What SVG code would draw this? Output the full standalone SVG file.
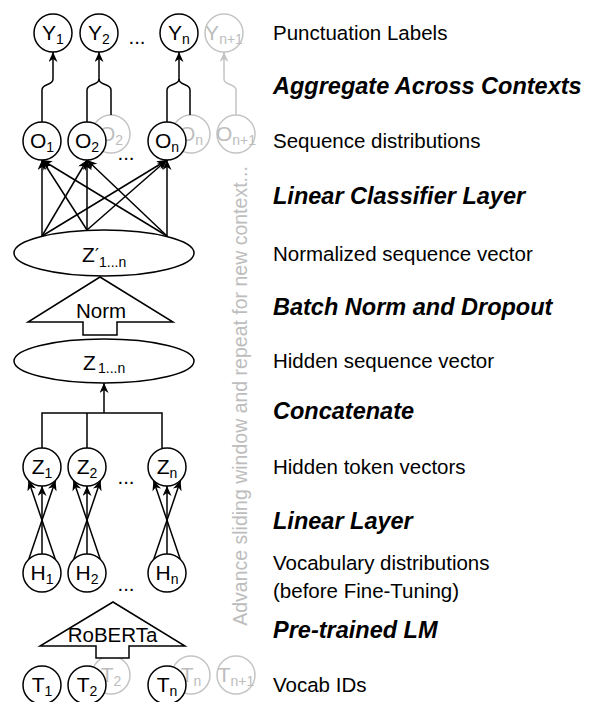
<svg xmlns="http://www.w3.org/2000/svg" width="592" height="702" viewBox="0 0 592 702">
<style>
text{font-family:"Liberation Sans",Arial,Helvetica,sans-serif;fill:#000}
.n{font-size:21px}
.s{font-size:14px}
.g{fill:#bdbdbd}
.lab{font-size:20.5px}
.rot{font-size:19.5px}
.hd{font-size:23.5px;font-weight:bold;font-style:italic}
.c{fill:#fff;stroke:#000;stroke-width:1.5}
.cg{fill:#fff;stroke:#c4c4c4;stroke-width:1.5}
.e{fill:none;stroke:#000;stroke-width:1.5}
.eg{fill:none;stroke:#c4c4c4;stroke-width:1.5}
.a{marker-end:url(#ah)}
.ag{marker-end:url(#ahg)}
</style>
<defs>
<marker id="ah" markerUnits="userSpaceOnUse" markerWidth="11" markerHeight="9" refX="10" refY="4.5" orient="auto">
<path d="M0,0 L10,4.5 L0,9 L3,4.5 Z" fill="#000"/>
</marker>
<marker id="ahg" markerUnits="userSpaceOnUse" markerWidth="11" markerHeight="9" refX="10" refY="4.5" orient="auto">
<path d="M0,0 L10,4.5 L0,9 L3,4.5 Z" fill="#c4c4c4"/>
</marker>
</defs>

<!-- grey (next context) nodes -->
<g id="ghost-nodes">
<g id="Yn1g"><circle class="cg" cx="224" cy="33" r="19"/><text class="n g" x="224" y="40" text-anchor="middle">Y<tspan class="s" dy="4">n+1</tspan></text></g>
<g id="O2g"><circle class="cg" cx="111" cy="134" r="19"/><text class="n g" x="111" y="141" text-anchor="middle">O<tspan class="s" dy="4">2</tspan></text></g>
<g id="Ong"><circle class="cg" cx="191" cy="134" r="19"/><text class="n g" x="191" y="141" text-anchor="middle">O<tspan class="s" dy="4">n</tspan></text></g>
<g id="On1g"><circle class="cg" cx="236" cy="134" r="19"/><text class="n g" x="236" y="141" text-anchor="middle">O<tspan class="s" dy="4">n+1</tspan></text></g>
<g id="T2g"><circle class="cg" cx="111" cy="675" r="19"/><text class="n g" x="111" y="682" text-anchor="middle">T<tspan class="s" dy="4">2</tspan></text></g>
<g id="Tng"><circle class="cg" cx="191" cy="675" r="19"/><text class="n g" x="191" y="682" text-anchor="middle">T<tspan class="s" dy="4">n</tspan></text></g>
<g id="Tn1g"><circle class="cg" cx="236" cy="675" r="19"/><text class="n g" x="236" y="682" text-anchor="middle">T<tspan class="s" dy="4">n+1</tspan></text></g>
</g>

<g id="connectors">
<!-- O to Y -->
<path class="e a" d="M42,122 V90 C42,83 53,86 53,79 V52"/>
<path class="e a" d="M87,122 V90 C87,83 99,86 99,79 V52"/>
<path class="e" d="M111,115 V90 C111,83 99,86 99,79"/>
<path class="e a" d="M167,122 V90 C167,83 179,86 179,79 V52"/>
<path class="e" d="M190,115 V90 C190,83 179,86 179,79"/>
<path class="eg ag" d="M236,115 V90 C236,83 224,86 224,79 V52"/>
<!-- Z' to O -->
<path class="e a" d="M42,236 L42,160"/>
<path class="e a" d="M42,236 L87,160"/>
<path class="e a" d="M42,236 L167,160"/>
<path class="e a" d="M87,230 L42,160"/>
<path class="e a" d="M87,230 L87,160"/>
<path class="e a" d="M87,230 L167,160"/>
<path class="e a" d="M167,236 L42,160"/>
<path class="e a" d="M167,236 L87,160"/>
<path class="e a" d="M167,236 L167,160"/>
<!-- concatenate -->
<path class="e" d="M42,448 V413 H162 V449 M87,448 V413"/>
<path class="e a" d="M104,413 V383"/>
<!-- H to Z -->
<path class="e a" d="M28.5,560 L55.5,480.5"/>
<path class="e a" d="M42,554 L42,486"/>
<path class="e a" d="M55.5,560 L28.5,480.5"/>
<path class="e a" d="M73.5,560 L100.5,480.5"/>
<path class="e a" d="M87,554 L87,486"/>
<path class="e a" d="M100.5,560 L73.5,480.5"/>
<path class="e a" d="M153.5,560 L180.5,480.5"/>
<path class="e a" d="M167,554 L167,486"/>
<path class="e a" d="M180.5,560 L153.5,480.5"/>
</g>

<g id="Y1"><circle class="c" cx="53" cy="33" r="19"/><text class="n" x="53" y="40" text-anchor="middle">Y<tspan class="s" dy="4">1</tspan></text></g>
<g id="Y2"><circle class="c" cx="99" cy="33" r="19"/><text class="n" x="99" y="40" text-anchor="middle">Y<tspan class="s" dy="4">2</tspan></text></g>
<g id="Yn"><circle class="c" cx="179" cy="33" r="19"/><text class="n" x="179" y="40" text-anchor="middle">Y<tspan class="s" dy="4">n</tspan></text></g>
<text class="lab" x="137" y="44" text-anchor="middle">...</text>

<g id="O1"><circle class="c" cx="42" cy="141" r="19"/><text class="n" x="42" y="148" text-anchor="middle">O<tspan class="s" dy="4">1</tspan></text></g>
<g id="O2"><circle class="c" cx="87" cy="141" r="19"/><text class="n" x="87" y="148" text-anchor="middle">O<tspan class="s" dy="4">2</tspan></text></g>
<g id="On"><circle class="c" cx="167" cy="141" r="19"/><text class="n" x="167" y="148" text-anchor="middle">O<tspan class="s" dy="4">n</tspan></text></g>
<text class="lab" x="126" y="160" text-anchor="middle">...</text>

<g id="Zp"><ellipse class="c" cx="104" cy="253" rx="90" ry="23"/><text class="n" x="82" y="262">Z</text><text x="95" y="261" style="font-family:'DejaVu Sans',sans-serif;font-size:18px">′</text><text class="s" x="99" y="267">1...n</text></g>

<g id="Norm"><path class="c" d="M100,277 L173,322 L117,322 L117,335 L83,335 L83,322 L28,322 Z"/><text class="lab" x="101" y="318" text-anchor="middle">Norm</text></g>

<g id="Z"><ellipse class="c" cx="104" cy="361" rx="90" ry="22"/><text class="n" x="83" y="370">Z</text><text class="s" x="98" y="373">1...n</text></g>

<g id="Z1"><circle class="c" cx="42" cy="467" r="19"/><text class="n" x="42" y="474" text-anchor="middle">Z<tspan class="s" dy="4">1</tspan></text></g>
<g id="Z2"><circle class="c" cx="87" cy="467" r="19"/><text class="n" x="87" y="474" text-anchor="middle">Z<tspan class="s" dy="4">2</tspan></text></g>
<g id="Zn"><circle class="c" cx="167" cy="467" r="19"/><text class="n" x="167" y="474" text-anchor="middle">Z<tspan class="s" dy="4">n</tspan></text></g>
<text class="lab" x="126" y="484" text-anchor="middle">...</text>

<g id="H1"><circle class="c" cx="42" cy="573" r="19"/><text class="n" x="42" y="580" text-anchor="middle">H<tspan class="s" dy="4">1</tspan></text></g>
<g id="H2"><circle class="c" cx="87" cy="573" r="19"/><text class="n" x="87" y="580" text-anchor="middle">H<tspan class="s" dy="4">2</tspan></text></g>
<g id="Hn"><circle class="c" cx="167" cy="573" r="19"/><text class="n" x="167" y="580" text-anchor="middle">H<tspan class="s" dy="4">n</tspan></text></g>
<text class="lab" x="126" y="591" text-anchor="middle">...</text>

<g id="RoBERTa"><path class="c" d="M113,602 L185,646 L129,646 L129,658 L96,658 L96,646 L40,646 Z"/><text class="lab" x="112.5" y="642" text-anchor="middle">RoBERTa</text></g>

<g id="T1"><circle class="c" cx="42" cy="685" r="19"/><text class="n" x="42" y="692" text-anchor="middle">T<tspan class="s" dy="4">1</tspan></text></g>
<g id="T2"><circle class="c" cx="87" cy="685" r="19"/><text class="n" x="87" y="692" text-anchor="middle">T<tspan class="s" dy="4">2</tspan></text></g>
<g id="Tn"><circle class="c" cx="167" cy="685" r="19"/><text class="n" x="167" y="692" text-anchor="middle">T<tspan class="s" dy="4">n</tspan></text></g>

<text class="rot g" transform="translate(247,396) rotate(-90)" text-anchor="middle">Advance sliding window and repeat for new context...</text>

<g id="labels">
<text class="lab" x="273" y="39.5">Punctuation Labels</text>
<text class="hd" x="273" y="94">Aggregate Across Contexts</text>
<text class="lab" x="273" y="147.5">Sequence distributions</text>
<text class="hd" x="273" y="204">Linear Classifier Layer</text>
<text class="lab" x="273" y="260.5">Normalized sequence vector</text>
<text class="hd" x="273" y="315">Batch Norm and Dropout</text>
<text class="lab" x="273" y="367.5">Hidden sequence vector</text>
<text class="hd" x="273" y="419">Concatenate</text>
<text class="lab" x="273" y="473.5">Hidden token vectors</text>
<text class="hd" x="273" y="529">Linear Layer</text>
<text class="lab" x="273" y="569.5">Vocabulary distributions</text>
<text class="lab" x="273" y="597.5">(before Fine-Tuning)</text>
<text class="hd" x="273" y="638">Pre-trained LM</text>
<text class="lab" x="273" y="691.5">Vocab IDs</text>
</g>
</svg>
